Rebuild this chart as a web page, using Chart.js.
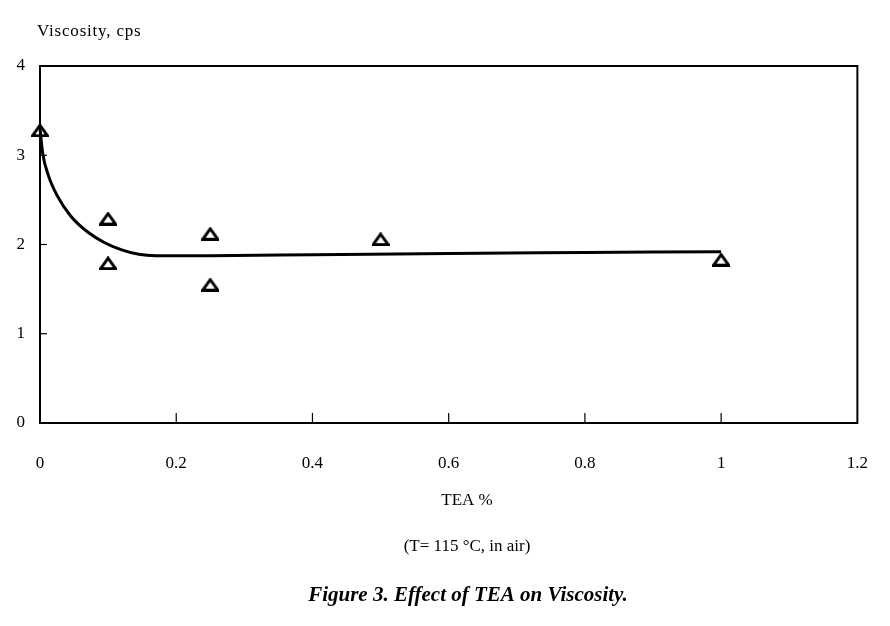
<!DOCTYPE html>
<html>
<head>
<meta charset="utf-8">
<script src="https://cdn.jsdelivr.net/npm/chart.js@4.4.0/dist/chart.umd.min.js"></script>
<style>
    html, body { margin: 0; padding: 0; background: #fff; }
    #wrap { width: 890px; height: 626px; }
</style>
</head>
<body>
<div id="wrap"><canvas id="chart"></canvas></div>
<script>
// measured points
const teaPercent = [0, 0.1, 0.1, 0.25, 0.25, 0.5, 1.0];
const viscosity = [3.28, 2.29, 1.79, 2.12, 1.55, 2.06, 1.83];

// hand drawn trend curve
const curveTea = [0, 0.004, 0.012, 0.025, 0.045, 0.07, 0.095, 0.12, 0.145, 0.17, 0.25, 0.4, 0.6, 0.8, 1.0];
const curveViscosity = [3.3, 3.02, 2.78, 2.55, 2.32, 2.14, 2.02, 1.94, 1.89, 1.875, 1.875, 1.885, 1.9, 1.91, 1.92];

const xTicks = [0, 0.2, 0.4, 0.6, 0.8, 1, 1.2];
const xTickLabels = ['0', '0.2', '0.4', '0.6', '0.8', '1', '1.2'];
const yTicks = [0, 1, 2, 3, 4];

const SERIF = '"Liberation Serif", "DejaVu Serif", serif';

// flattened open triangle used as marker
function triangleMarker() {
    const c = document.createElement('canvas');
    c.width = 18;
    c.height = 14;
    const ctx = c.getContext('2d');
    ctx.strokeStyle = '#000';
    ctx.lineWidth = 3;
    ctx.beginPath();
    ctx.moveTo(9, 2);
    ctx.lineTo(16.5, 12.5);
    ctx.lineTo(1.5, 12.5);
    ctx.closePath();
    ctx.stroke();
    return c;
}

const frame = {
    id: 'frame',
    afterDraw(chart) {
        const {ctx, chartArea} = chart;
        const x = chart.scales.x;
        const y = chart.scales.y;
        ctx.save();
        ctx.strokeStyle = '#000';
        ctx.lineWidth = 2;
        ctx.strokeRect(chartArea.left, chartArea.top, chartArea.right - chartArea.left, chartArea.bottom - chartArea.top);

        ctx.lineWidth = 1.2;
        xTicks.slice(1, -1).forEach(v => {
            const px = x.getPixelForValue(v);
            ctx.beginPath();
            ctx.moveTo(px, chartArea.bottom);
            ctx.lineTo(px, chartArea.bottom - 10);
            ctx.stroke();
        });
        yTicks.slice(1, -1).forEach(v => {
            const py = y.getPixelForValue(v);
            ctx.beginPath();
            ctx.moveTo(chartArea.left, py);
            ctx.lineTo(chartArea.left + 7, py);
            ctx.stroke();
        });

        ctx.fillStyle = '#000';
        ctx.textBaseline = 'middle';
        ctx.textAlign = 'left';
        ctx.letterSpacing = '0.8px';
        ctx.font = '17px ' + SERIF;
        ctx.fillText('Viscosity, cps', 37, 32);

        ctx.letterSpacing = '0px';
        ctx.textAlign = 'center';
        ctx.font = '17px ' + SERIF;
        ctx.fillText('TEA %', 467, 501);
        ctx.font = '17px ' + SERIF;
        ctx.fillText('(T= 115 \u00B0C, in air)', 467, 547);
        ctx.font = 'italic bold 21px ' + SERIF;
        ctx.fillText('Figure 3. Effect of TEA on Viscosity.', 468, 596);
        ctx.restore();
    }
};

const marker = triangleMarker();

new Chart(document.getElementById('chart'), {
    type: 'scatter',
    data: {
        datasets: [
            {
                label: 'trend',
                data: curveTea.map((t, i) => ({x: t, y: curveViscosity[i]})),
                showLine: true,
                borderColor: '#000',
                borderWidth: 3,
                pointRadius: 0,
                cubicInterpolationMode: 'monotone',
                clip: false
            },
            {
                label: 'measured',
                data: teaPercent.map((t, i) => ({x: t, y: viscosity[i]})),
                pointStyle: marker,
                pointRadius: 8,
                clip: false
            }
        ]
    },
    options: {
        responsive: true,
        maintainAspectRatio: false,
        animation: false,
        layout: {
            padding: {top: 66, right: 31, bottom: 143, left: 0}
        },
        plugins: {
            legend: {display: false},
            tooltip: {enabled: false}
        },
        scales: {
            x: {
                type: 'linear',
                min: 0,
                max: 1.2,
                afterFit: axis => { axis.height = 60; },
                afterBuildTicks: axis => { axis.ticks = xTicks.map(v => ({value: v})); },
                grid: {display: false},
                border: {display: false},
                ticks: {
                    color: '#000',
                    padding: 22,
                    font: {family: SERIF, size: 17},
                    callback: (value, index) => xTickLabels[index]
                }
            },
            y: {
                min: 0,
                max: 4,
                afterFit: axis => { axis.width = 40; },
                afterBuildTicks: axis => { axis.ticks = yTicks.map(v => ({value: v})); },
                grid: {display: false},
                border: {display: false},
                ticks: {
                    color: '#000',
                    padding: 7,
                    font: {family: SERIF, size: 17}
                }
            }
        }
    },
    plugins: [frame]
});
</script>
</body>
</html>
